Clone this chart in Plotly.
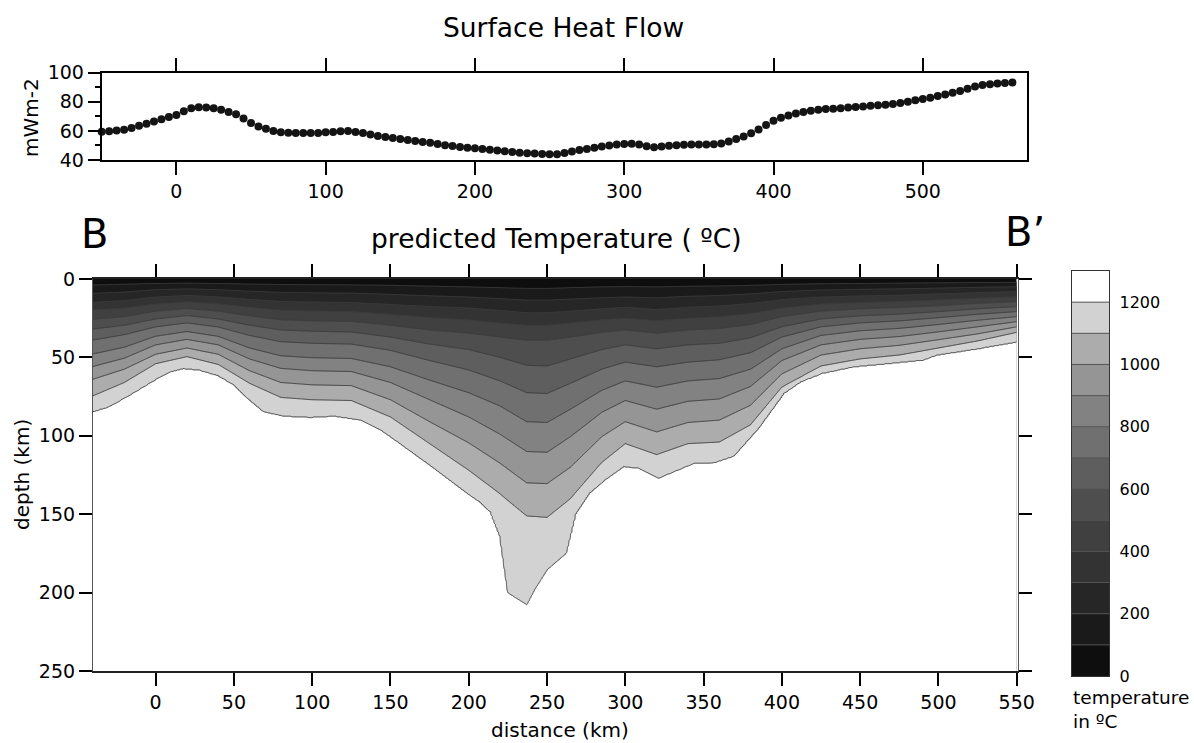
import numpy as np
import plotly.graph_objects as go

# ---------------- data: surface heat flow (top panel) ----------------
HF_DIST = [-50, -45, -40, -35, -30, -25, -20, -15, -10, -5,
           0, 5, 10, 15, 20, 25, 30, 35, 40, 45,
           50, 55, 60, 65, 70, 75, 80, 85, 90, 95,
           100, 105, 110, 115, 120, 125, 130, 135, 140, 145,
           150, 155, 160, 165, 170, 175, 180, 185, 190, 195,
           200, 205, 210, 215, 220, 225, 230, 235, 240, 245,
           250, 255, 260, 265, 270, 275, 280, 285, 290, 295,
           300, 305, 310, 315, 320, 325, 330, 335, 340, 345,
           350, 355, 360, 365, 370, 375, 380, 385, 390, 395,
           400, 405, 410, 415, 420, 425, 430, 435, 440, 445,
           450, 455, 460, 465, 470, 475, 480, 485, 490, 495,
           500, 505, 510, 515, 520, 525, 530, 535, 540, 545,
           550, 555, 560]
HF_VALUE = [59.5, 59.8, 60.2, 60.8, 62.0, 63.5, 65.0, 66.5, 68.0, 69.5,
            71.0, 73.5, 75.5, 76.2, 76.0, 75.5, 74.5, 73.0, 71.5, 68.5,
            65.5, 63.0, 61.5, 60.0, 59.0, 58.8, 58.5, 58.5, 58.5, 58.5,
            59.0, 59.3, 59.8, 60.0, 59.2, 58.5, 57.5, 56.5, 55.8, 55.2,
            54.5, 53.8, 53.0, 52.4, 51.8, 51.0, 50.2, 49.6, 49.0, 48.4,
            48.0, 47.5, 47.0, 46.5, 46.0, 45.5, 45.0, 44.6, 44.4, 44.2,
            44.0, 44.0, 44.8, 45.8, 46.8, 47.6, 48.4, 49.2, 50.0, 50.6,
            51.0, 51.2, 50.6, 49.4, 48.8, 49.2, 49.8, 50.2, 50.4, 50.6,
            50.6, 50.6, 50.8, 51.4, 52.8, 54.4, 56.2, 58.4, 61.0, 64.0,
            67.0, 69.0, 70.6, 72.0, 73.0, 73.8, 74.5, 75.0, 75.3, 75.6,
            76.0, 76.4, 76.8, 77.2, 77.6, 78.0, 78.5, 79.2, 80.0, 81.0,
            82.0, 82.8, 84.0, 85.0, 86.2, 87.5, 89.0, 90.5, 91.5, 92.0,
            92.6, 93.0, 93.2]
HF_XTICKS = [0, 100, 200, 300, 400, 500]
HF_YTICKS = [40, 60, 80, 100]

# ---------------- data: isotherm depths (km) read from the section ----------------
COL_X = [-40, -20, 0, 20, 40, 60, 80, 100, 125, 150, 175, 200, 220, 237, 250,
         265, 285, 300, 320, 340, 360, 380, 400, 425, 450, 475, 500, 525, 550]
D100 = [3.8, 3.3, 2.8, 2.6, 2.8, 3.2, 3.5, 3.6, 3.7, 4.0, 4.5, 5.0, 5.5, 6.0, 6.0,
        5.5, 5.0, 4.8, 5.0, 4.6, 4.4, 4.0, 3.4, 3.0, 2.8, 2.6, 2.4, 2.2, 2.1]
D200 = [9.1, 8.3, 6.8, 6.3, 6.8, 7.8, 8.5, 8.8, 9.0, 9.8, 10.7, 11.5, 12.5, 13.5, 13.5,
        12.8, 12.0, 11.5, 12.0, 11.0, 10.5, 9.5, 8.0, 7.0, 6.6, 6.3, 5.8, 5.3, 4.9]
D300 = [14.9, 13.8, 11.5, 10.5, 11.4, 13.0, 14.3, 14.7, 15.0, 16.2, 17.5, 18.5, 20.0, 21.5, 21.5,
        20.5, 19.0, 18.0, 19.5, 18.0, 17.2, 15.6, 13.2, 11.5, 10.8, 10.3, 9.5, 8.7, 8.0]
D400 = [19.7, 18.5, 16.0, 14.5, 15.8, 18.0, 19.8, 20.3, 20.7, 22.5, 24.5, 26.0, 28.0, 29.5, 29.5,
        28.0, 26.0, 25.0, 26.5, 25.0, 24.0, 22.0, 18.5, 16.0, 15.0, 14.3, 13.3, 12.2, 11.3]
D500 = [25.7, 24.0, 20.5, 18.8, 20.5, 23.5, 26.0, 26.7, 27.0, 29.5, 32.5, 34.5, 37.0, 39.0, 39.0,
        37.0, 34.0, 32.5, 34.5, 32.5, 31.5, 29.0, 24.0, 20.5, 19.0, 18.2, 17.0, 15.5, 14.4]
D600 = [31.9, 29.5, 25.5, 23.3, 25.5, 29.5, 32.5, 33.3, 33.8, 37.0, 41.5, 45.0, 50.0, 55.0, 55.5,
        51.0, 45.0, 42.0, 44.5, 42.0, 41.0, 37.5, 30.5, 25.5, 23.5, 22.4, 20.8, 19.0, 17.6]
D700 = [38.9, 35.5, 30.5, 28.0, 30.6, 36.0, 40.0, 41.0, 41.5, 45.5, 52.0, 58.0, 65.0, 72.5, 73.0,
        66.5, 57.5, 53.0, 56.0, 53.0, 51.5, 47.0, 37.0, 30.5, 28.0, 26.7, 24.7, 22.5, 20.8]
D800 = [47.8, 43.5, 36.5, 33.5, 36.6, 44.0, 49.0, 50.2, 50.7, 56.0, 64.5, 72.5, 81.0, 91.0, 91.5,
        83.0, 71.0, 65.0, 69.0, 65.0, 63.5, 57.5, 44.5, 36.0, 33.0, 31.5, 29.0, 26.3, 24.0]
D900 = [55.8, 50.5, 42.0, 38.5, 42.0, 51.0, 57.0, 58.5, 59.0, 66.0, 77.0, 88.0, 99.0, 110.0, 110.5,
        100.5, 85.0, 77.5, 83.0, 78.0, 76.5, 68.5, 52.0, 42.0, 38.5, 36.7, 33.7, 30.5, 27.2]
D1000 = [63.9, 57.5, 48.0, 44.0, 48.0, 58.5, 66.0, 67.5, 68.0, 77.0, 91.0, 104.5, 117.5, 130.0, 130.5,
         120.0, 100.5, 91.0, 97.5, 91.5, 90.0, 80.5, 60.5, 48.5, 44.5, 42.3, 38.7, 35.0, 30.5]
D1100 = [74.5, 66.0, 54.0, 49.5, 54.5, 66.5, 75.5, 77.0, 77.5, 88.0, 105.0, 122.0, 137.0, 151.0, 152.0,
         140.0, 117.0, 105.0, 112.0, 105.0, 104.0, 93.0, 69.0, 55.5, 51.0, 48.5, 44.0, 39.5, 34.0]
# 1200 C isotherm (base of the shaded region), finer sampling
D1200_X = [-40, -30, -15, 0, 10, 18, 28, 40, 50, 60, 69, 82, 99, 114, 131, 144, 156, 178, 199,
           207, 214, 220, 225, 237, 242, 250, 262, 268, 277, 287, 299, 309, 321, 344, 357, 369,
           385, 401, 412, 426, 446, 469, 490, 499, 526, 550]
D1200 = [84.5, 81.5, 73.0, 64.0, 59.0, 57.0, 58.0, 61.5, 67.5, 77.0, 84.5, 87.3, 88.1, 87.3, 89.8,
         96.2, 104.7, 120.6, 136.5, 142.0, 148.5, 164.0, 200.0, 207.6, 198.0, 185.3, 175.0, 150.0,
         136.5, 128.0, 119.5, 120.6, 127.0, 117.4, 117.0, 113.0, 95.0, 73.0, 65.4, 60.0, 55.8, 53.7,
         51.6, 48.4, 44.2, 40.0]
ISO_T = [100, 200, 300, 400, 500, 600, 700, 800, 900, 1000, 1100, 1200]
SEC_XTICKS = [0, 50, 100, 150, 200, 250, 300, 350, 400, 450, 500, 550]
SEC_YTICKS = [0, 50, 100, 150, 200, 250]
CB_TICKS = [0, 200, 400, 600, 800, 1000, 1200]
CB_LEVELS = [0, 100, 200, 300, 400, 500, 600, 700, 800, 900, 1000, 1100, 1200, 1300]

# ---------------- style ----------------
BAND_COLORS = ['#0e0e0e', '#1a1a1a', '#262626', '#333333', '#404040', '#4e4e4e',
               '#5e5e5e', '#707070', '#828282', '#959595', '#acacac', '#d2d2d2', '#ffffff']
NB = len(BAND_COLORS)
CS = [[k / (NB - 1), c] for k, c in enumerate(BAND_COLORS)]
FONT = "DejaVu Sans"
W, H = 1194, 743


def px(x):
    return x / W


def py(y):
    return 1 - y / H


# ---------------- temperature grid built from the isotherm table ----------------
ISO_ROWS = [D100, D200, D300, D400, D500, D600, D700, D800, D900, D1000, D1100]
gx = np.arange(-40, 551, 1.0)
gz = np.arange(0, 250.01, 0.5)
T = np.empty((len(gz), len(gx)))
for j, xv in enumerate(gx):
    d = [float(np.interp(xv, COL_X, row)) for row in ISO_ROWS]
    d12 = max(float(np.interp(xv, D1200_X, D1200)), d[-1] + 0.5)
    zs = [0.0] + d + [d12, 400.0]
    ts = [0.0] + ISO_T[:-1] + [ISO_T[-1], 1300.0]
    T[:, j] = np.interp(gz, zs, ts)
T = np.round(T, 1)

fig = go.Figure()

fig.add_trace(go.Scatter(
    x=HF_DIST, y=HF_VALUE, mode='markers', xaxis='x', yaxis='y',
    marker=dict(size=8, color='#141414'), cliponaxis=False,
    showlegend=False, hoverinfo='x+y'))

fig.add_trace(go.Contour(
    x=gx, y=gz, z=T, xaxis='x2', yaxis='y2',
    autocontour=False,
    contours=dict(start=ISO_T[0], end=ISO_T[-1], size=100, coloring='fill', showlines=True),
    colorscale=CS, showscale=False,
    line=dict(color='#3c3c3c', width=1, smoothing=0.5),
    hoverinfo='skip'))

band_mid = [(CB_LEVELS[i] + CB_LEVELS[i + 1]) / 2 for i in range(NB)]
fig.add_trace(go.Heatmap(
    x=[0], y=band_mid, z=[[k] for k in range(NB)], xaxis='x3', yaxis='y3',
    colorscale=CS, zmin=0, zmax=NB - 1, showscale=False, hoverinfo='skip'))

shapes = []
for lv in CB_LEVELS[1:-1]:
    shapes.append(dict(type='line', xref='x3 domain', yref='y3', x0=0, x1=1, y0=lv, y1=lv,
                       line=dict(color='#555555', width=1)))

tickfont = dict(family=FONT, size=19, color='black')
common = dict(showgrid=False, zeroline=False, ticks='outside', tickcolor='black',
              tickwidth=1.5, showline=True, tickfont=tickfont, automargin=False)

fig.update_layout(
    width=W, height=H, margin=dict(l=0, r=0, t=0, b=0, pad=0, autoexpand=False),
    paper_bgcolor='white', plot_bgcolor='white', showlegend=False,
    font=dict(family=FONT, color='black'),
    xaxis=dict(domain=[px(101.7), px(1027.3)], anchor='y', range=[-50, 570],
               tickvals=HF_XTICKS, ticklen=13, linewidth=2, linecolor='black',
               mirror='ticks', **common),
    yaxis=dict(domain=[py(160), py(72.7)], anchor='x', range=[40, 100],
               tickvals=HF_YTICKS, ticklen=12, linewidth=2, linecolor='black', mirror=True,
               minor=dict(tickvals=[50, 70, 90], ticks='outside', ticklen=5,
                          tickcolor='black', tickwidth=1.5), **common),
    yaxis4=dict(overlaying='y', anchor='x', side='right', range=[40, 100],
                tickvals=[40, 50, 60, 70, 80, 90, 100], ticks='outside', ticklen=12,
                tickwidth=1.5, tickcolor='black', showticklabels=False,
                showline=False, showgrid=False, zeroline=False, automargin=False),
    xaxis2=dict(domain=[px(93), px(1017.5)], anchor='y2', range=[-40, 550.5],
                tickvals=SEC_XTICKS, ticklen=13, linewidth=1.5, linecolor='#222222',
                mirror='ticks', **common),
    yaxis2=dict(domain=[py(671), py(279)], anchor='x2', range=[250, 0],
                tickvals=SEC_YTICKS, ticklen=13, linewidth=1.2, linecolor='#555555',
                mirror='ticks', **common),
    xaxis3=dict(domain=[px(1071.7), px(1109.3)], anchor='y3', range=[-0.5, 0.5],
                showticklabels=False, ticks='', showgrid=False, zeroline=False,
                showline=True, mirror=True, linecolor='#333333', linewidth=1, automargin=False),
    yaxis3=dict(domain=[py(676), py(271)], anchor='x3', range=[0, 1300], side='right',
                tickvals=CB_TICKS, ticks='outside', ticklen=6, tickcolor='rgba(0,0,0,0)',
                showgrid=False, zeroline=False, showline=True, mirror=True,
                linecolor='#333333', linewidth=1, automargin=False,
                tickfont=dict(family=FONT, size=16, color='black')),
    shapes=shapes,
)

ann = [
    dict(text='Surface Heat Flow', x=px(563), y=py(27), size=26.5, angle=0),
    dict(text='predicted Temperature ( ºC)', x=px(556), y=py(238), size=26.5, angle=0),
    dict(text='B', x=px(94), y=py(234), size=40, angle=0),
    dict(text='B’', x=px(1025), y=py(232), size=40, angle=0),
    dict(text='mWm-2', x=px(31), y=py(118), size=20, angle=-90),
    dict(text='depth (km)', x=px(22), y=py(475), size=20, angle=-90),
    dict(text='distance (km)', x=px(560), y=py(730), size=20, angle=0),
]
annotations = []
for a in ann:
    annotations.append(dict(text=a['text'], x=a['x'], y=a['y'], xref='paper', yref='paper',
                            xanchor='center', yanchor='middle', showarrow=False,
                            textangle=a['angle'],
                            font=dict(family=FONT, size=a['size'], color='black')))
annotations.append(dict(text='temperature<br>in ºC', x=px(1071), y=py(685), xref='paper',
                        yref='paper', xanchor='left', yanchor='top', align='left',
                        showarrow=False, font=dict(family=FONT, size=18.5, color='black')))
fig.update_layout(annotations=annotations)

fig.write_html("out.html", config={'displayModeBar': False},
               post_script="document.body.style.margin='0px';"
                           "document.body.style.overflow='hidden';")
